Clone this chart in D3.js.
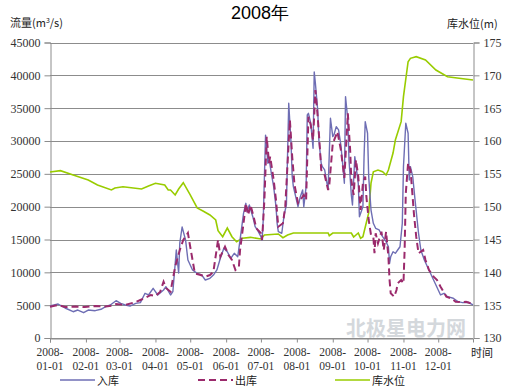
<!DOCTYPE html>
<html><head><meta charset="utf-8">
<script src="https://cdn.jsdelivr.net/npm/d3@7"></script>
<style>body{margin:0;background:#fff}svg{display:block}</style>
</head><body>
<svg id="c" width="520" height="386"></svg>
<script>
// ---- data (day offset from 2008-01-01) ----
const inDays = [0,7,13,20,24,29,33,39,44,48,52,57,61,65,69,74,78,82,85,89,93,98,100,104,106,109,111,112,114,117,119,123,127,131,134,138,141,144,147,150,153,156,159,162,164,167,169,170,172,175,177,179,182,183,184,186,188,189,191,193,195,196,197,200,202,204,206,208,209,210,214,216,218,219,221,222,223,225,227,228,229,231,232,234,235,237,239,240,242,244,245,247,249,251,253,254,255,257,258,260,261,263,266,267,270,271,272,274,275,277,279,281,284,287,290,292,293,294,296,298,300,302,304,305,307,309,310,311,313,315,318,320,323,327,331,335,337,340,343,348,352,356,361,365];
const inValues = [4870,5180,4570,4000,4260,3850,4260,4160,4370,4770,5030,5680,5280,5030,4870,5280,5380,6810,6550,7570,6550,7310,7810,6550,7050,13400,9900,14470,16900,14900,11880,10360,9850,9590,8830,9090,9590,10360,12140,13660,13140,12140,12900,12380,14930,18990,20510,19240,20260,18470,16950,16450,15430,14930,17970,30900,26610,27370,25080,23040,20000,17470,16190,15950,18730,20260,35750,29650,24570,23040,20000,21520,22540,20000,23040,33960,34220,32700,28890,40500,38790,34720,30150,26610,26090,25590,23560,22800,33460,30660,30920,32180,31680,29390,25590,23560,36750,33200,27110,21780,20260,27610,23560,18470,20000,27610,32940,31180,24570,19490,17470,16710,16450,15430,14670,13900,11380,12380,13140,12900,13400,13900,17470,26090,32700,31180,24060,26090,24570,21020,15950,13400,11880,10360,8830,7310,6550,6810,6290,6050,5530,5380,5440,5030];

const outDays = [0,7,13,22,30,39,48,53,57,65,74,78,82,87,91,95,98,100,104,108,112,115,119,121,125,130,134,138,141,145,147,151,154,157,160,163,164,167,169,171,173,176,178,182,183,185,187,189,190,193,195,197,201,203,207,209,211,214,216,219,221,223,225,227,229,231,233,234,237,240,241,244,247,248,251,254,257,259,260,262,264,266,268,270,272,273,275,277,279,280,281,283,286,288,290,292,293,294,297,299,300,303,305,306,307,309,311,312,314,316,318,322,324,327,331,334,337,342,346,350,355,359,363,365];
const outValues = [4770,5030,4720,4800,4720,4870,4800,4920,5180,5030,5480,5790,6090,6550,6400,7010,8570,7620,7050,10860,13400,14930,15990,13900,9850,9590,9340,9590,10100,14930,12380,13900,12640,11880,10360,10860,13400,17470,20510,18730,20260,18230,16710,15950,14930,21020,30660,26650,27610,24060,21020,16950,17470,20000,33200,27610,23300,20560,21020,21780,21020,33700,32440,30150,37770,33700,28630,25590,24820,22540,23300,29650,30920,31420,28630,24370,34220,28630,24060,21780,27110,24570,19490,23560,24570,21520,17970,15690,15430,12900,15950,14420,16190,13400,16190,12380,8830,6810,6290,7310,8330,8830,8330,13400,22040,26610,25590,23560,18990,15430,12900,13400,11880,10360,9340,8830,7810,6290,6050,5530,5440,5530,5280,5030];

const levelDays = [0,9,20,33,41,53,56,63,79,85,91,99,102,104,108,111,115,121,127,132,138,143,145,149,153,157,161,166,173,182,185,197,201,205,210,240,241,244,260,262,266,268,270,275,277,279,283,287,290,292,296,298,303,305,309,311,316,324,333,343,353,365];
const levelValues = [155.28,155.48,154.82,154.06,153.30,152.54,152.84,153.04,152.69,153.15,153.56,153.30,152.54,152.54,151.78,152.69,153.65,151.78,149.80,149.34,148.73,147.97,146.34,145.43,146.75,145.43,144.66,145.18,145.33,145.08,145.68,145.84,145.27,145.68,145.99,145.99,145.58,145.99,145.99,145.38,145.99,145.18,145.43,149.04,153.60,155.32,155.58,155.32,154.82,155.58,158.17,160.15,162.94,166.75,172.08,172.59,172.84,172.33,170.81,169.79,169.55,169.29];

const flowTicks = [0,5000,10000,15000,20000,25000,30000,35000,40000,45000];
const levelTicks = [130,135,140,145,150,155,160,165,170,175];
const monthTicks = ["2008-01-01","2008-02-01","2008-03-01","2008-04-01","2008-05-01","2008-06-01","2008-07-01","2008-08-01","2008-09-01","2008-10-01","2008-11-01","2008-12-01"];
const seriesNames = ["入库","出库","库水位"];
const colors = ["#6e6eb4","#9b2a6c","#99cc00"];

// ---- layout ----
const L = 50, R = 473, T = 42.5, B = 338;
const svg = d3.select("#c");
const start = new Date(2008,0,1);
const toDate = d => d3.timeDay.offset(start, d);
const x = d3.scaleTime().domain([start, new Date(2008,11,31)]).range([L, R]);
const y = d3.scaleLinear().domain([0,45000]).range([B, T]);
const y2 = d3.scaleLinear().domain([130,175]).range([B, T]);
const serif = "'Liberation Serif','DejaVu Serif',serif";
const cjk = "'Noto Sans CJK SC','Noto Sans',sans-serif";

// watermark
svg.append("text").attr("x",466).attr("y",336).attr("text-anchor","end")
  .attr("font-family",cjk).attr("font-weight","bold").attr("font-size",20)
  .attr("fill","#d4d8dc").text("北极星电力网");

// gridlines
svg.append("g").selectAll("line").data(flowTicks).join("line")
  .attr("x1",L).attr("x2",R).attr("y1",d=>Math.round(y(d))+0.5).attr("y2",d=>Math.round(y(d))+0.5)
  .attr("stroke","#8c8c8c").attr("stroke-width",1);

// left axis
const gl = svg.append("g").attr("transform",`translate(${L+0.5},0)`)
  .call(d3.axisLeft(y).tickValues(flowTicks).tickSize(6).tickPadding(4).tickFormat(d3.format("d")));
// right axis
const gr = svg.append("g").attr("transform",`translate(${R+0.5},0)`)
  .call(d3.axisRight(y2).tickValues(levelTicks).tickSize(6).tickPadding(4).tickFormat(d3.format("d")));
// bottom axis
const parse = d3.timeParse("%Y-%m-%d");
const gb = svg.append("g").attr("transform",`translate(0,${Math.round(B)+0.5})`)
  .call(d3.axisBottom(x).tickValues(monthTicks.map(parse)).tickSize(4).tickFormat(""));
[gl,gr,gb].forEach(g=>{
  g.select(".domain").attr("stroke","#8c8c8c");
  g.selectAll(".tick line").attr("stroke","#8c8c8c");
  g.selectAll("text").attr("font-family",serif).attr("font-size",12).attr("fill","#333");
});
// month labels (two lines, separate text elements)
const mg = svg.append("g").attr("font-family",serif).attr("font-size",11.5).attr("fill","#333").attr("text-anchor","middle");
mg.selectAll("text.l1").data(monthTicks).join("text").attr("class","l1")
  .attr("x",d=>x(parse(d))).attr("y",356).text(d=>d.slice(0,5));
mg.selectAll("text.l2").data(monthTicks).join("text").attr("class","l2")
  .attr("x",d=>x(parse(d))).attr("y",369.5).text(d=>d.slice(5));

// lines
const line = (days, vals, ys) => d3.line().x((d,i)=>x(toDate(days[i]))).y((d,i)=>ys(vals[i]))(vals);
svg.append("path").attr("d",line(levelDays,levelValues,y2)).attr("fill","none")
  .attr("stroke",colors[2]).attr("stroke-width",1.6);
svg.append("path").attr("d",line(inDays,inValues,y)).attr("fill","none")
  .attr("stroke",colors[0]).attr("stroke-width",1.4).attr("stroke-linejoin","round");
svg.append("path").attr("d",line(outDays,outValues,y)).attr("fill","none")
  .attr("stroke",colors[1]).attr("stroke-width",2).attr("stroke-dasharray","7,4");

// titles
svg.append("text").attr("x",260).attr("y",19).attr("text-anchor","middle")
  .attr("font-family","'Liberation Sans',Arial,sans-serif").attr("font-size",18).attr("fill","#000").text("2008年");
const lt = svg.append("text").attr("x",10).attr("y",27).attr("font-family",cjk).attr("font-size",11).attr("fill","#222");
lt.append("tspan").text("流量(m");
lt.append("tspan").attr("font-size",7).attr("dy",-4).text("3");
lt.append("tspan").attr("dy",4).text("/s)");
svg.append("text").attr("x",447).attr("y",28).attr("font-family",cjk).attr("font-size",11).attr("fill","#222").text("库水位(m)");
svg.append("text").attr("x",471).attr("y",357).attr("font-family",cjk).attr("font-size",11).attr("fill","#222").text("时间");

// legend
const legX = [60,198,335];
const lg = svg.append("g").selectAll("g").data(seriesNames).join("g")
  .attr("transform",(d,i)=>`translate(${legX[i]},380)`);
lg.append("line").attr("x1",0).attr("x2",35).attr("y1",0).attr("y2",0)
  .attr("stroke",(d,i)=>colors[i]).attr("stroke-width",(d,i)=>i===1?2:1.5)
  .attr("stroke-dasharray",(d,i)=>i===1?"7,4":null);
lg.append("text").attr("x",37).attr("y",4.5).attr("font-family",cjk).attr("font-size",11).attr("fill","#222").text(d=>d);
</script>
</body></html>
